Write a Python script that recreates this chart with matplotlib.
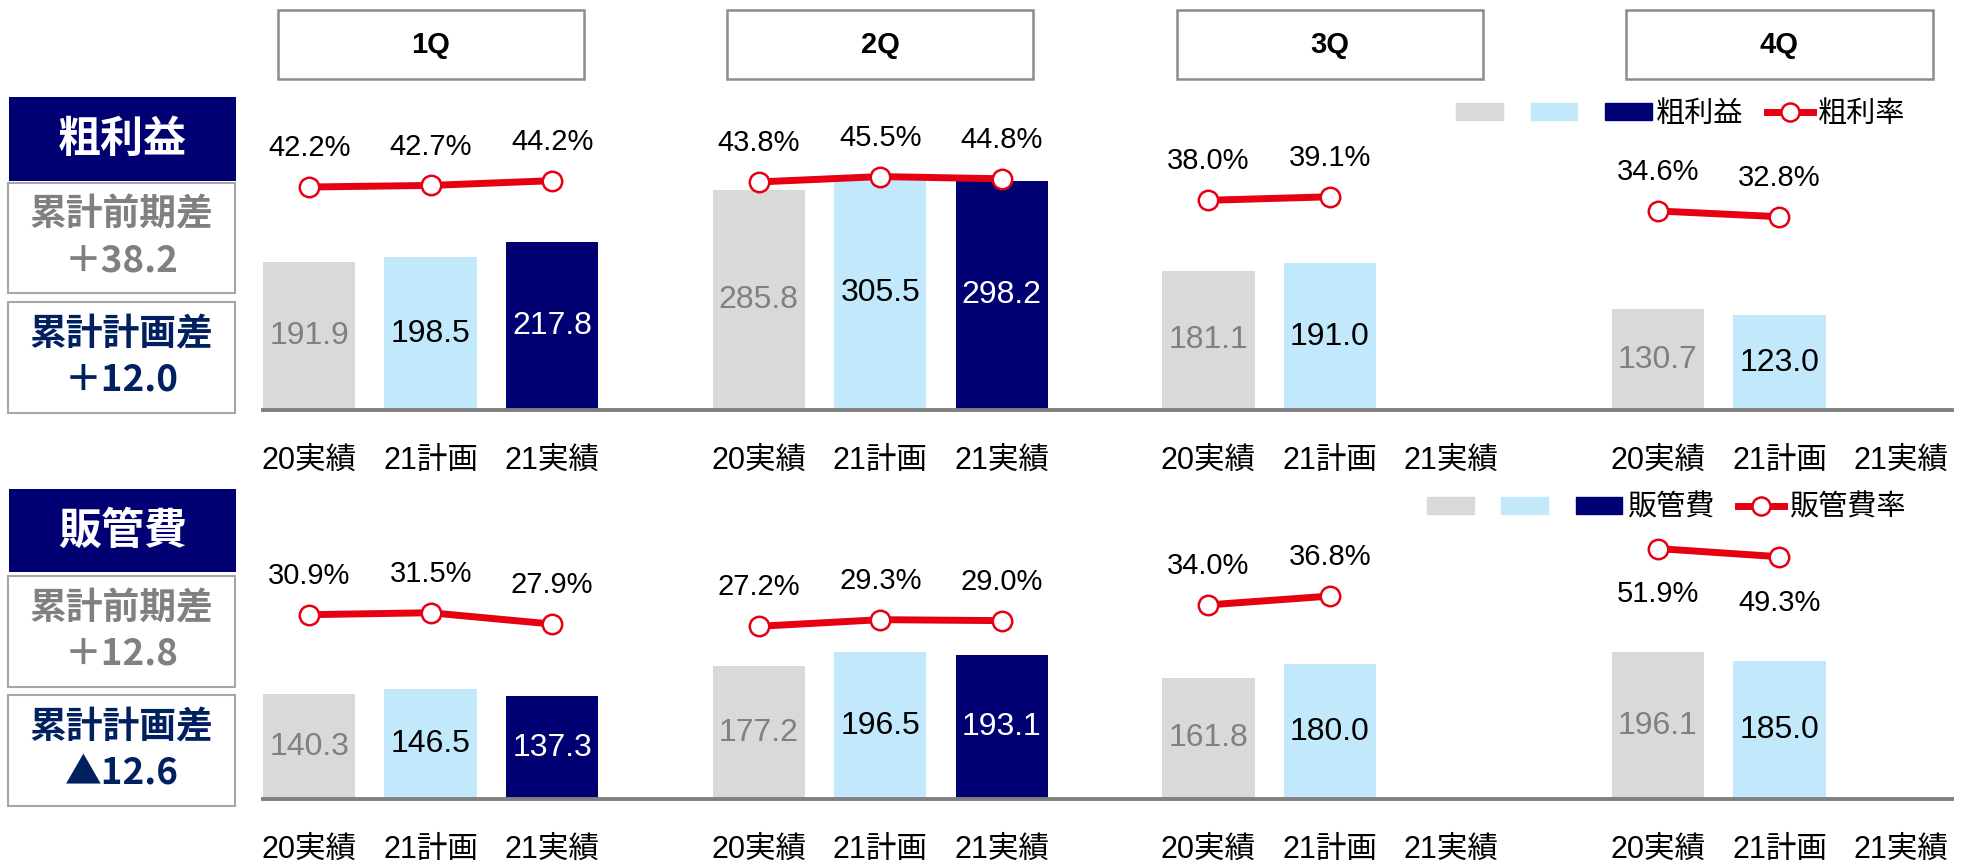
import numpy as np
import matplotlib
matplotlib.use('Agg')
import matplotlib.pyplot as plt
from matplotlib.patches import Rectangle, Patch
from matplotlib.lines import Line2D
import matplotlib.transforms as mtransforms

plt.rcParams['font.family'] = ['Liberation Sans', 'Noto Sans CJK JP', 'DejaVu Sans']

quarters = ['1Q', '2Q', '3Q', '4Q']
categories = ['20実績', '21計画', '21実績']

# 粗利益
gp_20 = [191.9, 285.8, 181.1, 130.7]
gp_plan = [198.5, 305.5, 191.0, 123.0]
gp_act = [217.8, 298.2, np.nan, np.nan]
gp_rate_20 = [42.2, 43.8, 38.0, 34.6]
gp_rate_plan = [42.7, 45.5, 39.1, 32.8]
gp_rate_act = [44.2, 44.8, np.nan, np.nan]

# 販管費
sga_20 = [140.3, 177.2, 161.8, 196.1]
sga_plan = [146.5, 196.5, 180.0, 185.0]
sga_act = [137.3, 193.1, np.nan, np.nan]
sga_rate_20 = [30.9, 27.2, 34.0, 51.9]
sga_rate_plan = [31.5, 29.3, 36.8, 49.3]
sga_rate_act = [27.9, 29.0, np.nan, np.nan]

# left side boxes
gp_title = '粗利益'
gp_notes = ['累計前期差\n＋38.2', '累計計画差\n＋12.0']
sga_title = '販管費'
sga_notes = ['累計前期差\n＋12.8', '累計計画差\n▲12.6']

GRAY = '#D9D9D9'
LBLUE = '#C1E8FB'
NAVY = '#000073'
RED = '#E60012'
bar_colors = [GRAY, LBLUE, NAVY]
text_colors = ['#808080', 'black', 'white']
GROUP = 3.7

fig = plt.figure(figsize=(19.64, 8.68), dpi=100)
ax_top = fig.add_axes([0.1339, 0.5276, 0.860, 0.3687])
ax_bot = fig.add_axes([0.1339, 0.0795, 0.860, 0.3675])


def draw_panel(ax, bars, rates, ylim_bar, ylim_rate, below):
    ax2 = ax.twinx()
    for q in range(len(quarters)):
        xs = q * GROUP + np.arange(3)
        for i in range(3):
            v = bars[i][q]
            if np.isnan(v):
                continue
            ax.bar(xs[i], v, width=0.76, color=bar_colors[i], zorder=1)
            ax.text(xs[i], v / 2, f'{v:.1f}', ha='center', va='center',
                    fontsize=23, color=text_colors[i], zorder=3)
        r = np.array([rates[i][q] for i in range(3)])
        ok = ~np.isnan(r)
        ax2.plot(xs[ok], r[ok], color=RED, lw=5, marker='o', ms=14,
                 mfc='white', mec=RED, mew=1.8, solid_capstyle='butt')
        off = -33 if below[q] else 28
        for x, p in zip(xs[ok], r[ok]):
            ax2.annotate(f'{p:.1f}%', (x, p), xytext=(0, off),
                         textcoords='offset points', ha='center',
                         va='center', fontsize=21)
    ticks = [q * GROUP + i for q in range(len(quarters)) for i in range(3)]
    ax.set_xticks(ticks)
    ax.set_xticklabels(categories * len(quarters), fontsize=22)
    ax.tick_params(axis='x', length=0, pad=26)
    ax.set_yticks([])
    ax.set_xlim(-0.38, (len(quarters) - 1) * GROUP + 2.42)
    ax.set_ylim(*ylim_bar)
    ax2.set_ylim(*ylim_rate)
    ax2.set_yticks([])
    for a in (ax, ax2):
        for s in ['top', 'right', 'left', 'bottom']:
            a.spines[s].set_visible(False)
    ax.spines['bottom'].set_visible(True)
    ax.spines['bottom'].set_color('#808080')
    ax.spines['bottom'].set_linewidth(2.8)
    ax.spines['bottom'].set_zorder(5)
    return ax2


draw_panel(ax_top, [gp_20, gp_plan, gp_act],
           [gp_rate_20, gp_rate_plan, gp_rate_act],
           (0, 416), (-28.4, 72.9), [False] * 4)
draw_panel(ax_bot, [sga_20, sga_plan, sga_act],
           [sga_rate_20, sga_rate_plan, sga_rate_act],
           (0, 426.5), (-27.7, 73.7), [False, False, False, True])

# quarter header boxes
trans = mtransforms.blended_transform_factory(ax_top.transData, fig.transFigure)
for q, name in enumerate(quarters):
    cx = q * GROUP + 1
    ax_top.add_patch(Rectangle((cx - 1.26, 0.909), 2.52, 0.079, transform=trans,
                               facecolor='white', edgecolor='#8C8C8C', lw=1.8,
                               clip_on=False))
    ax_top.text(cx, 0.9485, name, transform=trans, ha='center', va='center',
                fontsize=21, fontweight='bold')

# legends
for y, name, rname in [(0.869, '粗利益', '粗利率'), (0.415, '販管費', '販管費率')]:
    handles = [Patch(color=GRAY), Patch(color=LBLUE), Patch(color=NAVY),
               Line2D([], [], color=RED, lw=5, marker='o', ms=13, mfc='white',
                      mec=RED, mew=1.8)]
    fig.legend(handles, ['', '', name, rname], loc='center right',
               bbox_to_anchor=(0.97, y), ncol=4, frameon=False,
               prop={'family': ['Noto Sans CJK JP'], 'size': 21},
               handlelength=1.6, handleheight=0.55, handletextpad=0.15,
               columnspacing=0.8, borderpad=0, borderaxespad=0)

# left side label boxes
def side_boxes(title, notes, title_y, note_ys):
    fig.add_artist(Rectangle((0.0046, title_y[0]), 0.1156, title_y[1],
                             transform=fig.transFigure, facecolor=NAVY,
                             edgecolor='none'))
    fig.text(0.0624, title_y[0] + title_y[1] / 2, title, color='white',
             fontsize=31, fontweight='bold', ha='center', va='center',
             family=['Noto Sans CJK JP'])
    for (b, h), txt, col in zip(note_ys, notes, ['#808080', '#002060']):
        fig.add_artist(Rectangle((0.0041, b), 0.1156, h,
                                 transform=fig.transFigure, facecolor='white',
                                 edgecolor='#A6A6A6', lw=1.5))
        fig.text(0.0619, b + h / 2, txt, color=col, fontsize=26.5,
                 fontweight='bold', ha='center', va='center',
                 linespacing=1.3, family=['Noto Sans CJK JP', 'DejaVu Sans'])


side_boxes(gp_title, gp_notes, (0.7915, 0.0968),
           [(0.6624, 0.1267), (0.5242, 0.1279)])
side_boxes(sga_title, sga_notes, (0.341, 0.0956),
           [(0.2085, 0.1279), (0.0714, 0.1279)])

fig.savefig('out.png', dpi=100)
